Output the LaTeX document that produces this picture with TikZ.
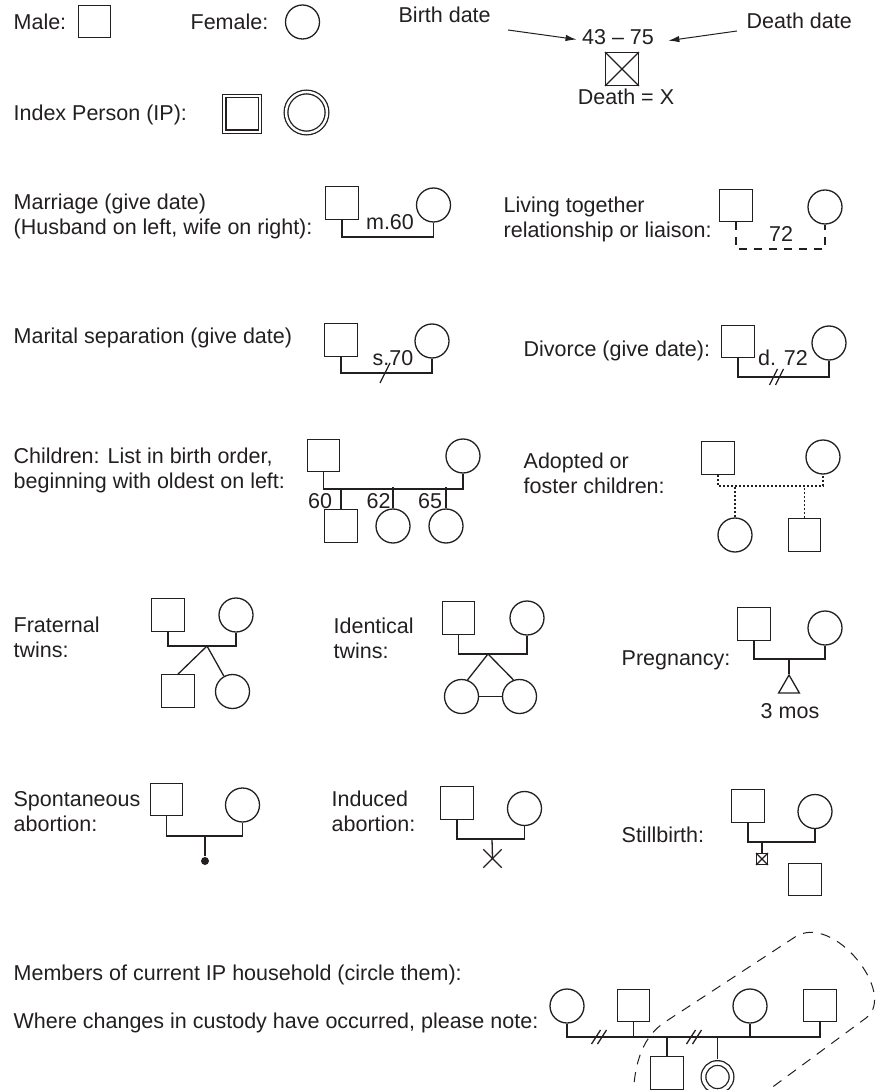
\documentclass[tikz,border=0pt]{standalone}
\usepackage{fontspec}
\setmainfont{Liberation Sans}
\usepackage{tikz}
\usetikzlibrary{arrows.meta,shapes.geometric,shapes.misc}
\definecolor{ink}{RGB}{35,31,32}
\newcommand{\legendsize}{\fontsize{10.75}{12.5}\selectfont}

\begin{document}
\begin{tikzpicture}[
  x=0.5pt, y=-0.5pt,
  font=\legendsize, color=ink, line width=0.65pt,
  male/.style={draw, minimum size=16.25pt, inner sep=0pt},
  female/.style={draw, circle, minimum size=17pt, inner sep=0pt},
  ipmale/.style={male, minimum size=17.75pt, double, double distance=0.95pt},
  ipfemale/.style={female, minimum size=20.5pt, double, double distance=1.2pt},
  fetus/.style={draw, regular polygon, regular polygon sides=3, minimum size=12pt, inner sep=0pt},
  termination/.style={draw, cross out, minimum size=8.5pt, inner sep=0pt},
  dot/.style={circle, fill=ink, minimum size=4pt, inner sep=0pt},
  lbl/.style={anchor=base west, align=left, inner sep=0pt},
  yr/.style={anchor=base, inner sep=0pt},
  arr/.style={-{Latex[length=5.5pt,width=3.2pt]}, line width=0.5pt},
  cohab/.style={dash pattern=on 4pt off 3.5pt},
  foster/.style={dash pattern=on 1pt off 1pt},
  hhloop/.style={dash pattern=on 5pt off 4pt, line width=0.5pt}
]
\useasboundingbox (0,0) rectangle (877,1090);

\node[lbl] (kmale) at (13,30) {Male:};
\node[male] (mk) at (94.5,21.5) {};
\node[lbl] (kfemale) at (190,30) {Female:};
\node[female] (fk) at (302.5,22) {};

\node[lbl] (bd) at (398,23) {Birth date};
\node[lbl] (dd) at (746,29) {Death date};
\node[yr] (dt) at (618,45) {43 – 75};
\node[male] (dx) at (622,69) {};
\draw (dx.north west) -- (dx.south east) (dx.north east) -- (dx.south west);
\node[yr] (dl) at (626,105) {Death = X};
\coordinate (bs) at (508,30);
\coordinate (ds) at (737,31);
\draw[arr, shorten >=2.5pt] (bs) -- ([yshift=-1.3pt]dt.west);
\draw[arr, shorten >=7pt] (ds) -- ([yshift=-2.5pt]dt.east);

\node[lbl] (kip) at (13,121) {Index Person (IP):};
\node[ipmale] (ipm) at (242,114) {};
\node[ipfemale] (ipf) at (306.5,112.5) {};

\node[lbl] (kmar) at (13,235) {Marriage (give date)\\(Husband on left, wife on right):};
\node[male] (mh) at (342,203) {};
\node[female] (mw) at (433.5,205) {};
\draw (mh.south) |- (390,237) -| (mw.south);
\node[yr] (mdt) at (390,230) {m.60};

\node[lbl] (kliv) at (503,238) {Living together\\relationship or liaison:};
\node[male] (lh) at (736,205.5) {};
\node[female] (lw) at (825,207) {};
\draw[cohab] (lh.south) |- (781,249) -| (lw.south);
\node[yr] (ldt) at (781,242) {72};

\node[lbl] (ksep) at (13,344) {Marital separation (give date)};
\node[male] (sh) at (341,340) {};
\node[female] (sw) at (432,341) {};
\draw (sh.south) |- (385,373) -| (sw.south);
\coordinate (sx) at (385,373);
\draw (sx) ++(-5,10) -- ++(10,-20);
\node[yr] (sdt) at (393,366) {s.70};

\node[lbl] (kdiv) at (523,357) {Divorce (give date):};
\node[male] (vh) at (738,341.5) {};
\node[female] (vw) at (829,343) {};
\draw (vh.south) |- (777,377) -| (vw.south);
\coordinate (vx) at (777,377);
\draw (vx) ++(-7.5,8) -- ++(8,-16) (vx) ++(-1.5,8) -- ++(8,-16);
\node[yr] (vdt) at (783,365) {d. 72};

\node[lbl] (kchi) at (13,488) {Children: List in birth order,\\beginning with oldest on left:};
\node[male] (ch) at (323.5,455.5) {};
\node[female] (cw) at (463,456) {};
\draw (ch.south) |- (400,489) -| (cw.south);
\node[male] (c1) at (341,526) {};
\node[female] (c2) at (393,526) {};
\node[female] (c3) at (446,526) {};
\foreach \k in {c1,c2,c3} \draw (\k.north) -- ++(0,-21);
\node[yr] (y60) at (320,508) {60};
\node[yr] (y62) at (378.5,508) {62};
\node[yr] (y65) at (430,508) {65};

\node[lbl] (kado) at (523,493) {Adopted or\\foster children:};
\node[male] (ah) at (718,458) {};
\node[female] (aw) at (823,457) {};
\draw[foster] (ah.south) |- (770,486) -| (aw.south);
\node[female] (a1) at (735,535) {};
\node[male] (a2) at (804.5,535) {};
\draw[foster] (a1.north) -- ++(0,-32);
\draw[foster] (a2.north) -- ++(0,-33);

\node[lbl] (kfra) at (13,657) {Fraternal\\twins:};
\node[male] (fh) at (168,615) {};
\node[female] (fw) at (236,615) {};
\coordinate (fa) at (207,646);
\draw (fh.south) |- (fa) -| (fw.south);
\node[male] (f1) at (178,691) {};
\node[female] (f2) at (232.5,691.5) {};
\draw (f1.north) -- (fa) -- (f2);

\node[lbl] (kide) at (333,658) {Identical\\twins:};
\node[male] (ih) at (458.5,618) {};
\node[female] (iw) at (527,618) {};
\coordinate (ia) at (488,654);
\draw (ih.south) |- (ia) -| (iw.south);
\node[female] (i1) at (461.5,696.5) {};
\node[female] (i2) at (519.5,696.5) {};
\draw (i1.70) -- (ia) -- (i2.110);
\draw (i1) -- (i2);

\node[lbl] (kpre) at (621,665) {Pregnancy:};
\node[male] (ph) at (754,624) {};
\node[female] (pw) at (825,628) {};
\coordinate (pa) at (789,659);
\draw (ph.south) |- (pa) -| (pw.south);
\node[fetus] (pf) at (789,687) {};
\draw (pa) -- (pf.north);
\node[yr] (pmo) at (790,718) {3 mos};

\node[lbl] (kspo) at (13,831) {Spontaneous\\abortion:};
\node[male] (oh) at (166.5,799.5) {};
\node[female] (ow) at (242.5,805) {};
\coordinate (oa) at (205,836);
\draw (oh.south) |- (oa) -| (ow.south);
\node[dot] (od) at (205,861) {};
\draw (oa) -- (od);

\node[lbl] (kind) at (331,831) {Induced\\abortion:};
\node[male] (nh) at (457,803) {};
\node[female] (nw) at (524.5,808.5) {};
\coordinate (na) at (492,839);
\draw (nh.south) |- (na) -| (nw.south);
\node[termination] (nx) at (492.5,858.5) {};
\draw (na) -- (nx.center);

\node[lbl] (ksti) at (621,842) {Stillbirth:};
\node[male] (bh) at (748,806) {};
\node[female] (bw) at (815,811.5) {};
\coordinate (ba) at (762,842);
\draw (bh.south) |- (ba) -| (bw.south);
\node[male, minimum size=5.25pt] (bx) at (762,859) {};
\draw (bx.north west) -- (bx.south east) (bx.north east) -- (bx.south west);
\draw (ba) -- (bx.north);
\node[male] (b1) at (805,879.5) {};

\node[lbl] (khh) at (13,980) {Members of current IP household (circle them):};
\node[lbl] (kcus) at (13,1028) {Where changes in custody have occurred, please note:};
\node[female] (h1) at (567,1006) {};
\node[male] (h2) at (633.5,1005.5) {};
\node[female] (h3) at (750,1006) {};
\node[male] (h4) at (820,1005.5) {};
\draw (h1.south) |- (700,1037) -| (h4.south);
\draw (h2.south) -- ++(0,15);
\draw (h3.south) -- ++(0,14);
\node[male] (g1) at (667,1073) {};
\node[ipfemale, minimum size=14pt, double distance=1.7pt] (g2) at (717.5,1077) {};
\draw (g1.north) -- ++(0,-20);
\draw[shorten <=1.6pt] (g2.north) -- ++(0,-26);
\coordinate (hx1) at (599,1037);
\coordinate (hx2) at (694,1037);
\foreach \c in {hx1,hx2} \draw (\c) ++(-7.5,7) -- ++(9,-14) (\c) ++(-1.5,7) -- ++(9,-14);

\begin{scope}
\clip (0,0) rectangle (877,1090);
\draw[hhloop] (633,1100) .. controls (634,1060) and (644,1036) .. (665,1022) -- (795,937)
  .. controls (833,912) and (898,994) .. (866,1018) -- (755,1100);
\end{scope}

\end{tikzpicture}
\end{document}
